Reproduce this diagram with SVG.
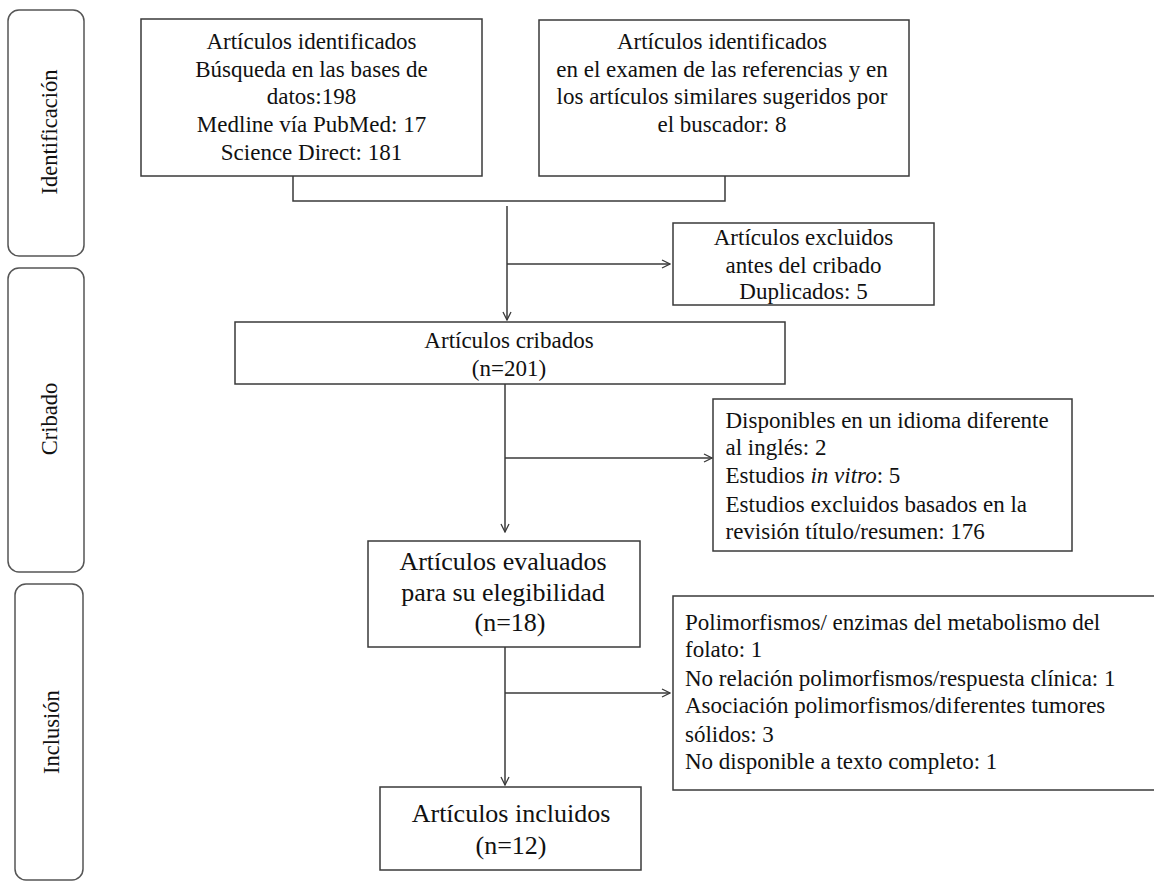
<svg xmlns="http://www.w3.org/2000/svg" width="1154" height="882" viewBox="0 0 1154 882">
<defs>
<style>
.box{fill:#fff;stroke:#3a3a3a;stroke-width:1.5}
.side{fill:#fff;stroke:#555;stroke-width:1.5}
.t{font-family:"Liberation Serif","Times New Roman",serif;font-size:23px;fill:#111}
.tl{font-family:"Liberation Serif","Times New Roman",serif;font-size:26px;fill:#111}
.ts{font-family:"Liberation Serif","Times New Roman",serif;font-size:22.5px;fill:#111}
.c{text-anchor:middle}
.ln{fill:none;stroke:#3a3a3a;stroke-width:1.5}
</style>
<marker id="ah" viewBox="0 0 10 10" refX="9" refY="5" markerWidth="10" markerHeight="10" markerUnits="userSpaceOnUse" orient="auto">
<path d="M1,1 L9,5 L1,9" fill="none" stroke="#3a3a3a" stroke-width="1.3"/>
</marker>
</defs>
<rect width="1154" height="882" fill="#fff"/>

<g id="phase-identificacion">
<rect class="side" x="8" y="10" width="76" height="246" rx="11"/>
<text class="ts c" transform="translate(57,132) rotate(-90)">Identificación</text>
</g>
<g id="phase-cribado">
<rect class="side" x="8" y="268" width="76" height="304" rx="11"/>
<text class="ts c" transform="translate(57,419) rotate(-90)">Cribado</text>
</g>
<g id="phase-inclusion">
<rect class="side" x="15" y="584" width="68" height="296" rx="11"/>
<text class="ts c" transform="translate(59,732) rotate(-90)">Inclusión</text>
</g>

<g id="connectors">
<path class="ln" d="M293,176 V201 H725 V176"/>
<path class="ln" d="M507,206 V320" marker-end="url(#ah)"/>
<path class="ln" d="M507,264 H670" marker-end="url(#ah)"/>
<path class="ln" d="M505,384 V532" marker-end="url(#ah)"/>
<path class="ln" d="M505,458 H712" marker-end="url(#ah)"/>
<path class="ln" d="M505,647 V785" marker-end="url(#ah)"/>
<path class="ln" d="M505,693 H670" marker-end="url(#ah)"/>
</g>

<g id="n-db">
<rect class="box" x="141" y="19" width="341" height="157"/>
<text class="t c" x="311.5" y="49">Artículos identificados</text>
<text class="t c" x="311.5" y="77">Búsqueda en las bases de</text>
<text class="t c" x="311.5" y="104">datos:198</text>
<text class="t c" x="311.5" y="132">Medline  vía PubMed: 17</text>
<text class="t c" x="311.5" y="160">Science Direct: 181</text>
</g>

<g id="n-refs">
<rect class="box" x="539" y="20" width="370" height="156"/>
<text class="t c" x="722" y="49">Artículos identificados</text>
<text class="t c" x="722" y="77">en el examen de las referencias y en</text>
<text class="t c" x="722" y="104">los artículos similares sugeridos por</text>
<text class="t c" x="722" y="132">el buscador: 8</text>
</g>

<g id="n-excl1">
<rect class="box" x="673" y="223" width="261" height="82"/>
<text class="t c" x="803.5" y="245">Artículos excluidos</text>
<text class="t c" x="803.5" y="273">antes del cribado</text>
<text class="t c" x="803.5" y="299">Duplicados: 5</text>
</g>

<g id="n-cribados">
<rect class="box" x="235" y="322" width="550" height="62"/>
<text class="t c" x="509" y="348">Artículos cribados</text>
<text class="t c" x="509" y="376">(n=201)</text>
</g>

<g id="n-excl2">
<rect class="box" x="713" y="399" width="359" height="152"/>
<text class="t" x="725.5" y="428">Disponibles en un idioma diferente</text>
<text class="t" x="725.5" y="455">al inglés:  2</text>
<text class="t" x="725.5" y="483">Estudios <tspan font-style="italic">in vitro</tspan>:  5</text>
<text class="t" x="725.5" y="512">Estudios excluidos basados en la</text>
<text class="t" x="725.5" y="539">revisión título/resumen:  176</text>
</g>

<g id="n-evaluados">
<rect class="box" x="368" y="541" width="272" height="106"/>
<text class="tl c" x="503" y="570">Artículos evaluados</text>
<text class="tl c" x="503" y="601">para su elegibilidad</text>
<text class="tl c" x="510" y="631">(n=18)</text>
</g>

<g id="n-excl3">
<rect class="box" x="673" y="596" width="490" height="194"/>
<text class="t" x="685" y="630">Polimorfismos/ enzimas del metabolismo del</text>
<text class="t" x="685" y="657">folato: 1</text>
<text class="t" x="685" y="686">No relación polimorfismos/respuesta clínica: 1</text>
<text class="t" x="685" y="713">Asociación polimorfismos/diferentes tumores</text>
<text class="t" x="685" y="742">sólidos: 3</text>
<text class="t" x="685" y="769">No disponible a texto completo: 1</text>
</g>

<g id="n-incluidos">
<rect class="box" x="380" y="787" width="261" height="83"/>
<text class="tl c" x="511" y="822">Artículos incluidos</text>
<text class="tl c" x="511" y="854">(n=12)</text>
</g>
</svg>
